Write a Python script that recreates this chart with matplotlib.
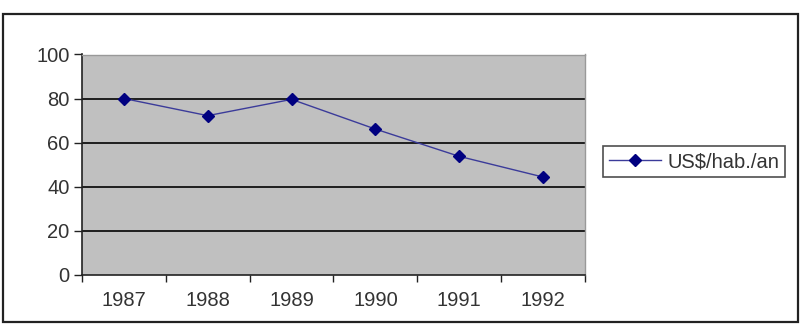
import matplotlib
matplotlib.use("Agg")
import matplotlib.pyplot as plt
from matplotlib.patches import Rectangle

years = ["1987", "1988", "1989", "1990", "1991", "1992"]
values = [80, 72.2, 79.6, 66.1, 53.7, 44.3]
yticks = [0, 20, 40, 60, 80, 100]
series_label = "US$/hab./an"

W, H = 809, 326
fig = plt.figure(figsize=(W / 100, H / 100), dpi=100)
plt.rcParams['font.family'] = ['Liberation Sans', 'DejaVu Sans']

# outer frame
fig.patches.append(Rectangle((3 / W, 4 / H), (798 - 3) / W, (322 - 14) / H,
                             transform=fig.transFigure, fill=False,
                             edgecolor='#222222', linewidth=1.6))

left, right, top, bottom = 82, 585, 54.5, 274.5
ax = fig.add_axes([left / W, 1 - bottom / H, (right - left) / W, (bottom - top) / H])
ax.set_facecolor('#c0c0c0')

x = list(range(len(years)))
ax.plot(x, values, color='#3b3b9a', linewidth=1.0, marker='D', markersize=6,
        markerfacecolor='#000080', markeredgecolor='#000080', label=series_label, zorder=3)

ax.set_xlim(-0.5, len(years) - 0.5)
ax.set_ylim(0, 100)
ax.set_yticks(yticks)
ax.set_yticklabels([str(v) for v in yticks])
for v in yticks[1:-1]:
    ax.axhline(v, color='#111111', linewidth=1.3, zorder=1)

fs = 14.5
ax.set_xticks([i - 0.5 for i in range(len(years) + 1)])
ax.set_xticklabels([])
ax.set_xticks(x, minor=True)
ax.set_xticklabels(years, minor=True)
ax.tick_params(axis='x', which='minor', length=0, pad=12, labelsize=fs, labelcolor='#333333')
ax.tick_params(axis='x', which='major', length=5, width=1, color='#222222', direction='out')
ax.tick_params(axis='y', length=6, width=1, color='#222222', labelsize=fs, labelcolor='#333333', pad=3)

for s in ['left', 'bottom']:
    ax.spines[s].set_color('#222222')
    ax.spines[s].set_linewidth(1.2)
for s in ['top', 'right']:
    ax.spines[s].set_color('#999999')
    ax.spines[s].set_linewidth(1.0)

leg = fig.legend(loc='upper left', bbox_to_anchor=(603 / W, 1 - 146 / H), frameon=True,
                 fancybox=False, edgecolor='#222222', fontsize=fs, handlelength=2.6,
                 borderpad=0.3, handletextpad=0.3, borderaxespad=0)
leg.get_frame().set_linewidth(1.2)
for t in leg.get_texts():
    t.set_color('#333333')

fig.savefig('out.png', dpi=100)
